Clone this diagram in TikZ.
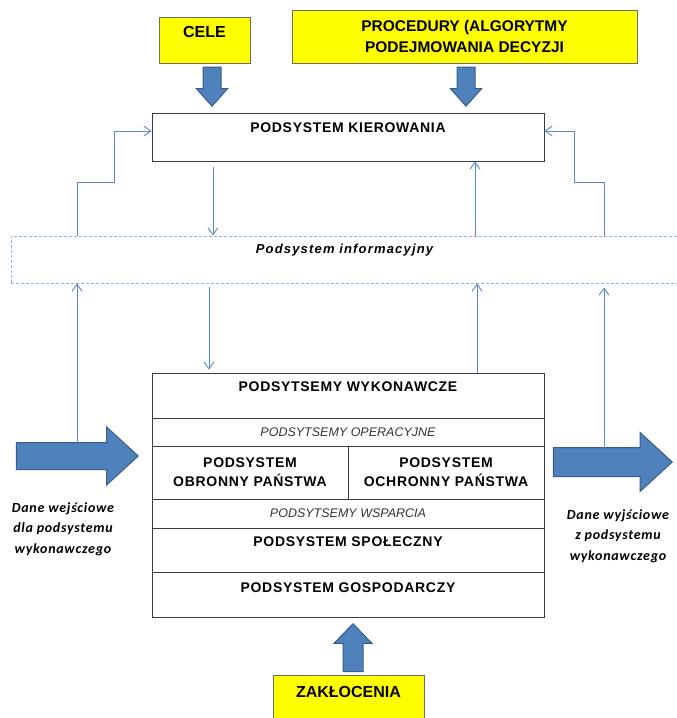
\documentclass[tikz,border=0pt]{standalone}
\usepackage{fontspec}
\setmainfont{Liberation Sans}
\newfontfamily\headfont[LetterSpace=5]{Liberation Sans}
\newfontfamily\infofont[LetterSpace=9]{Liberation Sans}
\newfontfamily\notefont[LetterSpace=5]{Carlito}
\usetikzlibrary{shapes.arrows,arrows.meta}
\definecolor{goalfill}{HTML}{FFFF00}
\definecolor{goaledge}{HTML}{6D6D6D}
\definecolor{partedge}{HTML}{3A3A3A}
\definecolor{flowfill}{HTML}{4F81BD}
\definecolor{flowedge}{HTML}{385D8A}
\definecolor{infoline}{HTML}{5A8AC6}
\definecolor{infoedge}{HTML}{8DB3E2}
\tikzset{
  goal/.style={draw=goaledge, fill=goalfill, line width=1pt, inner sep=0pt,
    font=\fontsize{15.5}{21}\selectfont\bfseries, align=center},
  part/.style={draw=partedge, line width=0.8pt, inner sep=0pt},
  head/.style={font=\headfont\fontsize{14}{19}\selectfont\bfseries, align=center},
  sub/.style={font=\fontsize{12.5}{15}\selectfont\itshape, text=black!80},
  note/.style={font=\notefont\fontsize{14}{20.5}\selectfont\bfseries\itshape, align=center},
  bigflow/.style={single arrow, draw=flowedge, fill=flowfill, line width=1pt,
    inner xsep=0pt, minimum width=0pt, anchor=tip},
  >={Straight Barb[length=7pt,width=10pt]}
}
\begin{document}
\begin{tikzpicture}[x=1pt, y=-1pt]
  \useasboundingbox (0,0) rectangle (677,718);
  \clip (0,0) rectangle (677,718);
  % inputs of the control subsystem
  \node[goal, minimum width=91, minimum height=46,
    label={[anchor=center, yshift=-15, font=\fontsize{16}{19}\selectfont\bfseries]north:CELE}]
    (cele) at (204.5,40) {};
  \node[goal, minimum width=345, minimum height=53] (proc) at (464.5,36.5)
    {PROCEDURY (ALGORYTMY\\PODEJMOWANIA DECYZJI};
  \node[goal, minimum width=151, minimum height=55,
    label={[anchor=center, yshift=-17, font=\fontsize{16}{19}\selectfont\bfseries]north:ZAKŁOCENIA}]
    (zak) at (348.5,702.5) {};
  % control and information
  \node[part, minimum width=392, minimum height=48,
    label={[head, anchor=center, yshift=-15]north:PODSYSTEM KIEROWANIA}]
    (kier) at (348,137) {};
  \node[draw=infoedge, densely dashed, line width=1pt, minimum width=667, minimum height=47,
    label={[anchor=center, yshift=-15, font=\infofont\fontsize{13}{15}\selectfont\bfseries\itshape]north:Podsystem informacyjny}]
    (info) at (344.5,259.5) {};
  % executive subsystems
  \node[part, minimum width=392, minimum height=45,
    label={[head, anchor=center, yshift=-14]north:PODSYTSEMY WYKONAWCZE}]
    (wyk) at (348,395.5) {};
  \node[part, sub, minimum width=392, minimum height=28] (oper) at (348,432)
    {PODSYTSEMY OPERACYJNE};
  \node[part, head, minimum width=196, minimum height=53] (obr) at (250,472.5)
    {PODSYSTEM\\OBRONNY PAŃSTWA};
  \node[part, head, minimum width=196, minimum height=53] (ochr) at (446,472.5)
    {PODSYSTEM\\OCHRONNY PAŃSTWA};
  \node[part, sub, minimum width=392, minimum height=29] (wsp) at (348,513.5)
    {PODSYTSEMY WSPARCIA};
  \node[part, minimum width=392, minimum height=44,
    label={[head, anchor=center, yshift=-14]north:PODSYSTEM SPOŁECZNY}]
    (spol) at (348,550) {};
  \node[part, minimum width=392, minimum height=45,
    label={[head, anchor=center, yshift=-16]north:PODSYSTEM GOSPODARCZY}]
    (gosp) at (348,594.5) {};
  % block arrows
  \node[bigflow, rotate=-90, inner ysep=8.5, single arrow head extend=6.5,
    single arrow tip angle=83, minimum height=39] (celein) at (212,107) {};
  \node[bigflow, rotate=-90, inner ysep=8.5, single arrow head extend=6.5,
    single arrow tip angle=83, minimum height=39] (procin) at (466,107) {};
  \node[bigflow, rotate=90, inner ysep=9.5, single arrow head extend=9,
    single arrow tip angle=88, minimum height=48] (zakin) at (353,623) {};
  \node[bigflow, inner ysep=13, single arrow head extend=15.5,
    single arrow tip angle=85, minimum height=122] (inflow) at (139,456) {};
  \node[bigflow, inner ysep=14, single arrow head extend=15,
    single arrow tip angle=85, minimum height=119] (outflow) at (673,462) {};
  \node[note] (inlabel) at (63,529) {Dane wejściowe\\dla podsystemu\\wykonawczego};
  \node[note] (outlabel) at (618,536) {Dane wyjściowe\\z podsystemu\\wykonawczego};
  \coordinate (infeed) at (77,443);
  \coordinate (outfeed) at (604,448);
  \coordinate (lstep) at (114,182);
  \coordinate (rstep) at (574,182);
  \coordinate (downa) at (213,167);
  \coordinate (downb) at (209,287);
  \coordinate (upa) at (475,0);
  \coordinate (upb) at (477,0);
  \begin{scope}[->, draw=infoline, line width=0.9pt]
    \draw (downa) to (downa |- info.north);
    \draw (info.north -| upa) to (kier.south -| upa);
    \draw (downb) to ([yshift=3]downb |- wyk.north);
    \draw (wyk.north -| upb) to (info.south -| upb);
    \draw (infeed) to (infeed |- info.south);
    \draw (outfeed) to ([yshift=-4]outfeed |- info.south);
    \draw (infeed |- info.north) |- (lstep) |- ([yshift=6]kier.west);
    \draw (outfeed |- info.north) |- (rstep) |- ([yshift=6]kier.east);
  \end{scope}
\end{tikzpicture}
\end{document}
